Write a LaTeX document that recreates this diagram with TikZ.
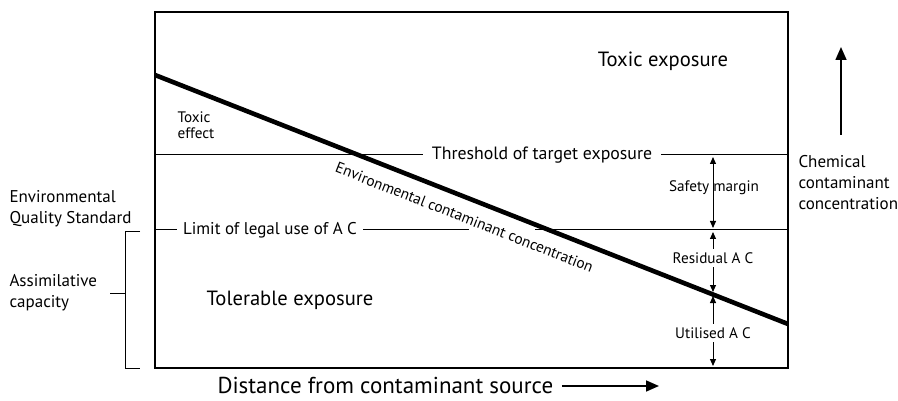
\documentclass[tikz,border=0pt]{standalone}
\usepackage{fontspec}
\setmainfont{PT Sans}
\usetikzlibrary{arrows.meta}
\begin{document}
\begin{tikzpicture}[x=1pt,y=-1pt,
  frame/.style={line width=1.6pt},
  level/.style={line width=1pt},
  trend/.style={line width=4.6pt},
  big/.style={font=\fontsize{20.6}{24}\selectfont},
  mid/.style={font=\fontsize{17}{21}\selectfont},
  small/.style={font=\fontsize{15.2}{16.5}\selectfont},
  dim/.style={line width=1pt,-{Triangle[length=7pt,width=6pt]}},
  axisarrow/.style={line width=1.6pt,-{Triangle[length=13pt,width=11pt]}},
]
\useasboundingbox (0,0) rectangle (898,401);

% plot frame
\coordinate (tl) at (155,12);
\coordinate (br) at (788,368);
\draw[frame] (tl) rectangle (br);

% threshold of target exposure
\coordinate (thrL) at (155,155);
\coordinate (thrR) at (788,155);
\node[mid, font=\fontsize{17.8}{21}\selectfont, inner xsep=9pt] (thr) at (542,155) {Threshold of target exposure};
\draw[level] (thrL) -- (thr.west);
\draw[level] (thr.east) -- (thrR);

% limit of legal use
\coordinate (limL) at (155,230);
\coordinate (limR) at (788,230);
\coordinate (gapA) at (469,230);
\coordinate (gapB) at (535,230);
\node[mid, inner xsep=6pt] (lim) at (270,230) {Limit of legal use of A C};
\draw[level] (limL) -- (lim.west);
\draw[level] (lim.east) -- (gapA);
\draw[level] (gapB) -- (limR);

% environmental contaminant concentration
\coordinate (src) at (155,75);
\coordinate (snk) at (788,324);
\draw[trend] (src) -- (snk)
  node[pos=0.5, sloped, below=8pt, font=\fontsize{15.3}{18}\selectfont] (ecc) {Environmental contaminant concentration};

% region labels
\node[big] (toxexp) at (663,61) {Toxic exposure};
\node[big] (tolexp) at (290,300) {Tolerable exposure};
\node[small, align=left, anchor=west] (toxeff) at (174,125) {Toxic\\effect};

% margins on the right
\coordinate (sTop) at (713,157);
\coordinate (sBot) at (713,228);
\draw[dim, {Triangle[length=7pt,width=6pt]}-{Triangle[length=7pt,width=6pt]}] (sTop) -- (sBot)
  node[pos=0.43, small, xshift=1pt] (safe) {Safety margin};

\coordinate (rTop) at (713,232);
\coordinate (rBot) at (713,292);
\node[small] (res) at (713,258) {Residual A C};
\draw[dim] (res.north) -- (rTop);
\draw[dim] (res.south) -- (rBot);

\coordinate (uTop) at (713,296);
\coordinate (uBot) at (713,366);
\node[small] (uti) at (713,333) {Utilised A C};
\draw[dim] (uti.north) -- (uTop);
\draw[dim] (uti.south) -- (uBot);

% bracket on the left
\coordinate (bTop) at (140,232);
\coordinate (bBot) at (140,368);
\coordinate (bMid) at (110,293);
\draw[level] (bTop) -- (125,232) -- (125,368) -- (bBot);
\draw[level] (bMid) -- (125,293);
\node[mid, align=left, anchor=west] (eqs) at (6,209) {Environmental\\Quality Standard};
\node[mid, align=left, anchor=west] (assim) at (6,293) {Assimilative\\capacity};

% concentration axis
\coordinate (upFrom) at (841,135);
\coordinate (upTo) at (841,47);
\draw[axisarrow] (upFrom) -- (upTo);
\node[mid, align=left, anchor=north west] (chem) at (795,152) {Chemical\\contaminant\\concentration};

% distance axis
\node[font=\fontsize{23}{26}\selectfont, anchor=west] (dist) at (214,385) {Distance from contaminant source};
\coordinate (distTo) at (659,386);
\draw[axisarrow] ([xshift=5pt]dist.east |- distTo) -- (distTo);
\end{tikzpicture}
\end{document}
